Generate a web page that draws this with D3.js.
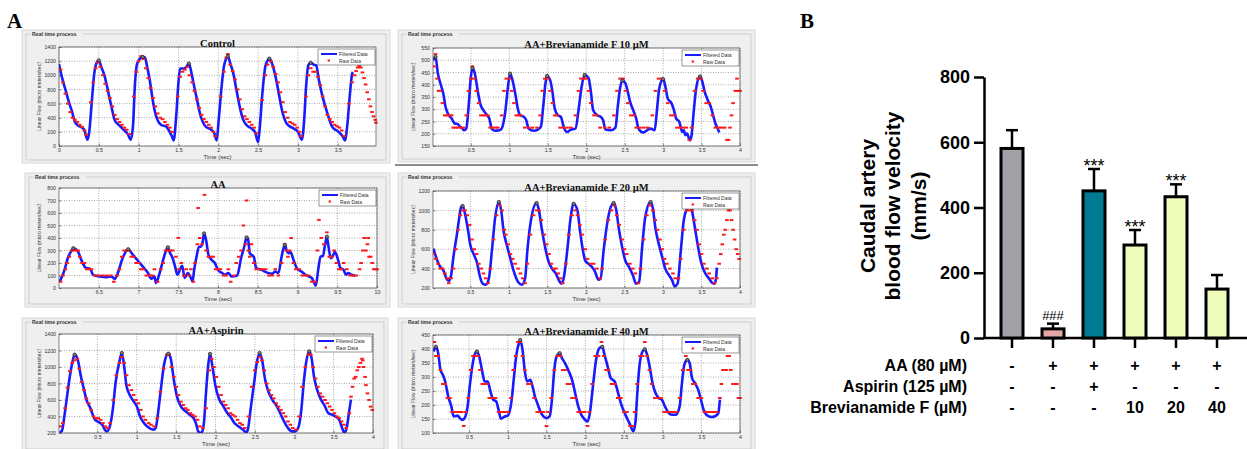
<!DOCTYPE html>
<html>
<head>
<meta charset="utf-8">
<script src="https://cdn.jsdelivr.net/npm/d3@7"></script>
<style>
body { margin: 0; background: #fff; }
svg { display: block; }
</style>
</head>
<body>
<div id="chart"></div>
<script>
// ---------- Panel A data: filtered waveform [time, flow] ----------
var ctrlFilt = [[0,1160],[0.04,960],[0.09,760],[0.13,600],[0.16,500],[0.2,340],[0.24,290],[0.29,260],[0.32,220],[0.345,120],[0.36,90],[0.38,200],[0.41,600],[0.44,1000],[0.47,1170],[0.5,1210],[0.53,1120],[0.57,1000],[0.6,860],[0.63,700],[0.66,550],[0.7,365],[0.76,290],[0.82,220],[0.86,175],[0.9,90],[0.93,300],[0.95,800],[0.98,1160],[1.02,1240],[1.05,1260],[1.08,1250],[1.11,1100],[1.14,930],[1.17,700],[1.2,505],[1.24,360],[1.28,300],[1.35,270],[1.39,200],[1.42,130],[1.44,80],[1.47,400],[1.5,900],[1.52,1095],[1.56,1095],[1.6,1120],[1.63,1165],[1.66,1050],[1.69,880],[1.73,670],[1.77,460],[1.83,290],[1.92,220],[1.95,180],[1.98,80],[2.0,300],[2.03,700],[2.07,1120],[2.1,1240],[2.12,1270],[2.15,1170],[2.19,1020],[2.23,780],[2.27,550],[2.31,380],[2.36,290],[2.42,245],[2.46,200],[2.5,55],[2.52,250],[2.55,700],[2.59,1120],[2.62,1210],[2.64,1235],[2.67,1180],[2.72,975],[2.76,740],[2.8,505],[2.86,315],[2.95,245],[3.0,200],[3.05,90],[3.08,400],[3.1,800],[3.13,1140],[3.16,1175],[3.2,1150],[3.23,1140],[3.26,950],[3.3,740],[3.37,460],[3.43,270],[3.51,200],[3.56,140],[3.59,80],[3.62,300],[3.65,700],[3.68,1020],[3.69,1045]];
var ctrlRaw = [[0.02,1080],[0.05,900],[0.08,740],[0.11,600],[0.14,480],[0.17,400],[0.2,370],[0.23,340],[0.26,300],[0.29,270],[0.32,220],[0.34,160],[0.4,620],[0.43,900],[0.46,1100],[0.49,1180],[0.52,1120],[0.55,1000],[0.58,880],[0.61,780],[0.64,680],[0.67,560],[0.7,440],[0.73,380],[0.76,340],[0.79,300],[0.82,260],[0.85,230],[0.88,170],[0.94,700],[0.97,1050],[1.0,1200],[1.03,1270],[1.06,1230],[1.09,1100],[1.12,960],[1.15,820],[1.18,680],[1.21,560],[1.24,460],[1.27,400],[1.3,380],[1.33,340],[1.36,300],[1.39,260],[1.42,200],[1.49,700],[1.52,980],[1.55,1050],[1.58,1080],[1.61,1120],[1.64,1000],[1.67,900],[1.7,780],[1.73,660],[1.76,540],[1.79,440],[1.82,380],[1.85,340],[1.88,300],[1.91,260],[1.94,200],[1.96,140],[2.03,700],[2.07,1050],[2.1,1250],[2.12,1300],[2.15,1150],[2.18,1060],[2.21,940],[2.24,800],[2.27,660],[2.3,520],[2.33,420],[2.36,380],[2.39,340],[2.42,300],[2.45,260],[2.48,180],[2.55,650],[2.59,1000],[2.62,1150],[2.66,1200],[2.69,1120],[2.72,1020],[2.75,900],[2.78,760],[2.81,620],[2.84,480],[2.87,400],[2.9,340],[2.93,320],[2.96,300],[2.99,260],[3.02,200],[3.04,140],[3.1,700],[3.13,1000],[3.16,1100],[3.19,1050],[3.22,1050],[3.25,980],[3.28,860],[3.31,700],[3.34,560],[3.37,440],[3.4,380],[3.43,340],[3.46,300],[3.49,280],[3.52,260],[3.55,220],[3.58,140],[3.64,600],[3.68,900],[3.71,1000],[3.73,1060],[3.75,1110],[3.77,1130],[3.79,1110],[3.81,1040],[3.83,960],[3.85,870],[3.87,760],[3.89,660],[3.91,560],[3.93,480],[3.95,420],[3.97,370],[3.98,330]];
var ctrlPeaks = [[0.5,1210],[1.05,1260],[1.63,1165],[2.12,1270],[2.64,1235],[3.16,1175]];

var aaFilt = [[6.01,53],[6.07,145],[6.11,238],[6.16,300],[6.18,318],[6.24,290],[6.28,225],[6.34,160],[6.39,155],[6.43,105],[6.51,93],[6.6,87],[6.66,93],[6.7,72],[6.74,120],[6.8,238],[6.85,300],[6.87,310],[6.93,265],[7.0,212],[7.06,167],[7.12,120],[7.16,74],[7.2,93],[7.22,40],[7.26,106],[7.31,225],[7.35,305],[7.37,325],[7.39,290],[7.43,238],[7.46,172],[7.49,106],[7.52,145],[7.55,177],[7.58,80],[7.62,120],[7.65,93],[7.68,53],[7.7,145],[7.73,250],[7.76,330],[7.78,330],[7.805,360],[7.825,437],[7.85,384],[7.88,265],[7.92,225],[7.96,200],[8.0,145],[8.05,120],[8.09,106],[8.13,120],[8.17,93],[8.24,98],[8.29,238],[8.33,330],[8.36,405],[8.38,384],[8.4,278],[8.45,250],[8.48,160],[8.55,145],[8.61,125],[8.68,114],[8.72,132],[8.76,120],[8.8,250],[8.84,345],[8.86,305],[8.89,278],[8.91,290],[8.95,225],[8.99,160],[9.05,132],[9.1,106],[9.14,93],[9.18,80],[9.21,40],[9.23,18],[9.26,145],[9.29,250],[9.32,257],[9.35,357],[9.37,410],[9.39,330],[9.42,238],[9.44,250],[9.47,290],[9.51,225],[9.54,160],[9.58,145],[9.61,106],[9.64,120],[9.68,106],[9.73,98]];
var aaRaw = [[6.02,50],[6.05,100],[6.08,150],[6.1,200],[6.13,250],[6.16,300],[6.19,300],[6.22,300],[6.24,300],[6.26,250],[6.29,200],[6.32,200],[6.35,150],[6.38,150],[6.41,150],[6.45,100],[6.5,100],[6.55,100],[6.6,100],[6.65,100],[6.69,50],[6.73,100],[6.76,150],[6.79,250],[6.82,300],[6.85,300],[6.88,300],[6.91,250],[6.94,250],[6.97,200],[7.0,200],[7.03,150],[7.06,150],[7.1,100],[7.14,100],[7.17,100],[7.2,150],[7.24,50],[7.28,150],[7.31,200],[7.34,300],[7.37,300],[7.4,300],[7.43,300],[7.47,250],[7.5,400],[7.51,150],[7.54,200],[7.57,100],[7.6,150],[7.63,100],[7.66,150],[7.69,50],[7.71,200],[7.74,350],[7.75,640],[7.77,400],[7.8,350],[7.83,745],[7.85,300],[7.88,250],[7.91,250],[7.94,250],[7.97,150],[8.0,150],[8.03,150],[8.07,100],[8.1,100],[8.13,150],[8.16,50],[8.2,100],[8.23,200],[8.26,250],[8.29,300],[8.32,500],[8.35,350],[8.36,700],[8.38,300],[8.4,250],[8.42,350],[8.45,200],[8.48,150],[8.52,150],[8.56,150],[8.6,150],[8.64,100],[8.68,100],[8.72,150],[8.76,100],[8.8,200],[8.84,350],[8.86,300],[8.88,250],[8.9,300],[8.92,400],[8.95,200],[8.98,150],[9.02,150],[9.06,100],[9.1,100],[9.14,100],[9.18,50],[9.22,50],[9.25,300],[9.27,545],[9.3,400],[9.33,350],[9.37,445],[9.4,250],[9.43,250],[9.46,300],[9.49,200],[9.52,150],[9.55,150],[9.58,200],[9.62,150],[9.66,100],[9.7,100],[9.74,100],[9.78,150],[9.8,200],[9.82,300],[9.84,400],[9.86,300],[9.88,350],[9.89,400],[9.9,250],[9.92,250],[9.94,200],[9.96,150],[9.98,150],[10.0,150]];
var aaPeaks = [[6.18,318],[6.87,310],[7.37,325],[7.825,437],[8.36,405],[8.84,345],[9.37,410]];

var aspFilt = [[0.02,208],[0.05,228],[0.08,402],[0.12,685],[0.15,887],[0.18,1048],[0.21,1150],[0.25,1089],[0.29,887],[0.33,725],[0.36,604],[0.41,503],[0.44,422],[0.47,362],[0.52,329],[0.56,301],[0.6,232],[0.62,220],[0.66,289],[0.7,523],[0.73,806],[0.78,1069],[0.81,1170],[0.84,1008],[0.87,766],[0.92,644],[0.96,584],[1.0,523],[1.04,402],[1.09,321],[1.14,273],[1.21,240],[1.24,261],[1.27,442],[1.31,766],[1.35,1048],[1.4,1162],[1.43,1109],[1.47,846],[1.51,644],[1.56,523],[1.62,463],[1.67,422],[1.72,382],[1.75,321],[1.78,220],[1.82,200],[1.85,300],[1.88,700],[1.91,1050],[1.93,1158],[1.96,1008],[2.0,766],[2.04,624],[2.1,523],[2.15,442],[2.2,382],[2.24,321],[2.29,281],[2.35,240],[2.39,208],[2.41,240],[2.45,523],[2.49,806],[2.52,1028],[2.56,1170],[2.59,1089],[2.63,846],[2.67,705],[2.72,604],[2.78,523],[2.83,422],[2.87,341],[2.92,261],[2.97,220],[3.01,220],[3.05,261],[3.09,483],[3.12,806],[3.15,1048],[3.19,1190],[3.22,1109],[3.25,887],[3.29,725],[3.34,604],[3.39,523],[3.43,442],[3.48,422],[3.52,402],[3.57,362],[3.6,281],[3.64,200],[3.67,281],[3.7,483],[3.72,604]];
var aspRaw = [[0.03,280],[0.06,320],[0.09,500],[0.12,750],[0.15,950],[0.18,1050],[0.21,1080],[0.24,1100],[0.27,980],[0.3,820],[0.33,720],[0.36,620],[0.39,560],[0.42,480],[0.45,400],[0.48,380],[0.51,380],[0.54,360],[0.57,320],[0.6,280],[0.63,260],[0.66,320],[0.7,600],[0.74,900],[0.78,1050],[0.81,1120],[0.84,1050],[0.87,900],[0.9,780],[0.93,720],[0.96,660],[0.99,600],[1.02,560],[1.05,480],[1.08,400],[1.11,360],[1.15,320],[1.18,300],[1.22,280],[1.26,380],[1.3,700],[1.34,980],[1.38,1150],[1.41,1150],[1.44,1000],[1.47,880],[1.5,760],[1.53,660],[1.56,580],[1.59,540],[1.62,500],[1.65,480],[1.68,440],[1.71,420],[1.74,400],[1.77,360],[1.8,280],[1.84,260],[1.88,500],[1.92,960],[1.95,1100],[1.98,1000],[2.01,880],[2.04,760],[2.07,660],[2.1,580],[2.13,540],[2.16,500],[2.19,440],[2.22,420],[2.25,400],[2.28,360],[2.31,320],[2.34,300],[2.37,260],[2.42,400],[2.46,760],[2.5,960],[2.53,1060],[2.56,1120],[2.59,1080],[2.62,960],[2.65,800],[2.68,720],[2.71,660],[2.74,620],[2.77,560],[2.8,520],[2.83,480],[2.86,440],[2.89,400],[2.92,340],[2.95,300],[2.98,260],[3.02,240],[3.06,400],[3.1,760],[3.14,1000],[3.18,1150],[3.21,1150],[3.24,1000],[3.27,860],[3.3,760],[3.33,680],[3.36,640],[3.39,600],[3.42,560],[3.45,520],[3.48,480],[3.51,440],[3.54,400],[3.57,380],[3.6,340],[3.63,300],[3.66,260],[3.7,440],[3.72,640],[3.74,760],[3.76,860],[3.78,880],[3.8,960],[3.82,1000],[3.84,1050],[3.86,1100],[3.87,1080],[3.88,1000],[3.9,880],[3.91,780],[3.93,680],[3.95,600],[3.97,520],[3.99,480]];
var aspPeaks = [[0.21,1150],[0.81,1170],[1.4,1162],[1.93,1158],[2.56,1170],[3.19,1190]];

var b10Filt = [[0.01,502],[0.04,513],[0.07,447],[0.11,399],[0.14,365],[0.17,310],[0.2,283],[0.25,262],[0.29,242],[0.33,239],[0.36,228],[0.39,221],[0.41,214],[0.44,221],[0.47,310],[0.5,434],[0.52,468],[0.55,447],[0.59,372],[0.62,324],[0.66,297],[0.71,276],[0.74,262],[0.77,221],[0.81,212],[0.87,214],[0.9,221],[0.95,297],[0.98,386],[1.01,445],[1.04,420],[1.08,358],[1.11,303],[1.14,276],[1.19,269],[1.22,255],[1.25,221],[1.32,212],[1.37,217],[1.41,228],[1.44,310],[1.47,406],[1.49,436],[1.53,420],[1.56,372],[1.59,303],[1.63,276],[1.67,269],[1.71,225],[1.75,207],[1.8,217],[1.86,221],[1.9,297],[1.94,392],[1.98,440],[2.03,427],[2.06,372],[2.09,297],[2.14,276],[2.19,269],[2.22,255],[2.25,217],[2.32,214],[2.38,225],[2.41,310],[2.44,386],[2.47,417],[2.51,406],[2.54,372],[2.57,331],[2.61,297],[2.65,262],[2.68,221],[2.74,205],[2.79,214],[2.84,221],[2.89,214],[2.92,297],[2.95,386],[3.0,423],[3.03,392],[3.06,344],[3.11,324],[3.14,297],[3.17,262],[3.21,249],[3.25,207],[3.27,214],[3.29,194],[3.31,201],[3.35,173],[3.37,194],[3.4,297],[3.43,386],[3.48,434],[3.51,413],[3.54,372],[3.58,338],[3.62,310],[3.65,276],[3.68,242],[3.71,221],[3.73,205]];
var b10Raw = [[0.02,475],[0.04,525],[0.06,425],[0.08,375],[0.1,375],[0.13,325],[0.16,275],[0.19,275],[0.22,275],[0.25,275],[0.27,225],[0.3,225],[0.33,225],[0.37,225],[0.4,225],[0.44,275],[0.47,375],[0.5,425],[0.52,475],[0.54,425],[0.57,375],[0.6,325],[0.63,275],[0.66,275],[0.69,275],[0.72,275],[0.75,225],[0.78,225],[0.82,225],[0.85,225],[0.9,275],[0.93,375],[0.96,425],[1.0,425],[1.03,375],[1.06,325],[1.09,275],[1.12,275],[1.15,275],[1.2,225],[1.25,225],[1.3,225],[1.36,225],[1.4,275],[1.43,375],[1.46,425],[1.5,425],[1.53,375],[1.56,325],[1.59,275],[1.62,275],[1.66,225],[1.7,225],[1.75,225],[1.8,225],[1.86,275],[1.9,375],[1.93,425],[1.97,425],[2.0,425],[2.03,375],[2.06,325],[2.1,275],[2.14,275],[2.18,225],[2.24,225],[2.3,225],[2.36,275],[2.4,375],[2.44,425],[2.48,425],[2.51,375],[2.54,325],[2.58,275],[2.62,275],[2.65,225],[2.7,225],[2.75,225],[2.8,225],[2.86,275],[2.9,375],[2.94,425],[2.98,425],[3.02,375],[3.06,325],[3.1,275],[3.14,275],[3.18,225],[3.22,225],[3.26,225],[3.3,225],[3.34,175],[3.37,225],[3.41,375],[3.45,425],[3.49,425],[3.52,375],[3.56,325],[3.6,325],[3.64,275],[3.68,225],[3.72,225],[3.76,225],[3.8,225],[3.83,175],[3.85,175],[3.87,225],[3.89,275],[3.91,325],[3.94,375],[3.96,425],[3.98,375],[4.0,375]];
var b10Peaks = [[0.04,513],[0.52,468],[1.01,445],[1.49,436],[1.98,440],[2.47,417],[3.0,423],[3.48,434]];

var b20Filt = [[0.02,605],[0.07,485],[0.11,416],[0.15,382],[0.19,296],[0.22,272],[0.25,331],[0.28,520],[0.33,777],[0.36,949],[0.38,1035],[0.4,1045],[0.43,966],[0.47,795],[0.5,640],[0.54,554],[0.59,451],[0.62,331],[0.66,245],[0.7,234],[0.74,296],[0.78,588],[0.82,915],[0.87,1087],[0.9,1000],[0.93,795],[0.98,623],[1.02,502],[1.06,382],[1.12,262],[1.17,234],[1.21,296],[1.24,588],[1.29,915],[1.36,1076],[1.39,1000],[1.43,795],[1.47,623],[1.51,485],[1.56,399],[1.61,348],[1.65,279],[1.68,245],[1.71,296],[1.76,605],[1.8,915],[1.84,1069],[1.89,1000],[1.92,812],[1.95,640],[1.99,485],[2.03,451],[2.08,416],[2.12,365],[2.16,286],[2.19,296],[2.23,588],[2.29,932],[2.36,1076],[2.39,1018],[2.43,795],[2.47,623],[2.51,485],[2.56,416],[2.61,331],[2.65,245],[2.69,262],[2.73,623],[2.77,932],[2.84,1087],[2.87,1018],[2.9,829],[2.95,640],[2.99,520],[3.03,399],[3.08,331],[3.12,279],[3.15,217],[3.19,245],[3.23,571],[3.27,898],[3.32,1035],[3.35,1069],[3.38,983],[3.42,795],[3.46,605],[3.5,451],[3.54,365],[3.6,296],[3.64,252],[3.67,245],[3.69,313],[3.7,410]];
var b20Raw = [[0.02,550],[0.05,500],[0.08,450],[0.11,400],[0.14,400],[0.17,350],[0.2,300],[0.22,250],[0.25,300],[0.28,400],[0.31,600],[0.34,800],[0.37,950],[0.4,1000],[0.43,1000],[0.46,950],[0.49,850],[0.52,700],[0.55,600],[0.58,550],[0.61,450],[0.64,400],[0.67,350],[0.7,300],[0.73,250],[0.76,400],[0.8,700],[0.84,950],[0.88,1050],[0.91,1000],[0.94,800],[0.96,750],[0.99,650],[1.02,550],[1.05,500],[1.08,450],[1.12,400],[1.15,350],[1.18,300],[1.21,250],[1.24,450],[1.28,750],[1.32,950],[1.36,1000],[1.39,1000],[1.42,900],[1.46,750],[1.49,650],[1.52,550],[1.55,450],[1.58,400],[1.61,400],[1.64,350],[1.67,300],[1.7,250],[1.74,450],[1.78,750],[1.82,950],[1.86,1000],[1.89,950],[1.92,850],[1.95,750],[1.99,600],[2.02,500],[2.06,450],[2.1,450],[2.14,400],[2.18,300],[2.21,400],[2.25,700],[2.29,900],[2.33,1000],[2.37,1050],[2.4,950],[2.43,850],[2.47,700],[2.5,600],[2.53,550],[2.57,450],[2.61,400],[2.64,350],[2.68,250],[2.71,400],[2.75,700],[2.79,950],[2.83,1050],[2.87,1000],[2.9,900],[2.93,800],[2.96,700],[2.99,600],[3.02,500],[3.05,450],[3.09,400],[3.13,350],[3.16,300],[3.2,300],[3.23,500],[3.27,800],[3.31,1000],[3.35,1000],[3.38,1000],[3.41,900],[3.44,800],[3.47,650],[3.5,550],[3.53,450],[3.57,400],[3.6,350],[3.64,300],[3.67,250],[3.7,300],[3.73,450],[3.75,550],[3.77,650],[3.79,750],[3.81,800],[3.83,900],[3.85,1000],[3.87,1000],[3.89,900],[3.91,800],[3.93,700],[3.95,600],[3.97,550],[3.99,500]];
var b20Peaks = [[0.4,1045],[0.87,1087],[1.36,1076],[1.84,1069],[2.36,1076],[2.84,1087],[3.35,1069]];

var b40Filt = [[0.04,391],[0.07,408],[0.1,385],[0.13,325],[0.16,308],[0.19,284],[0.23,230],[0.27,195],[0.3,159],[0.35,162],[0.38,153],[0.41,147],[0.44,153],[0.48,195],[0.51,272],[0.54,337],[0.57,379],[0.6,391],[0.63,373],[0.67,319],[0.7,284],[0.74,284],[0.77,254],[0.81,219],[0.85,213],[0.88,183],[0.91,151],[0.96,159],[1.0,162],[1.05,219],[1.08,302],[1.11,379],[1.15,426],[1.16,432],[1.19,397],[1.22,319],[1.25,284],[1.29,290],[1.32,266],[1.35,230],[1.38,207],[1.42,177],[1.46,159],[1.5,153],[1.54,159],[1.57,219],[1.6,325],[1.63,373],[1.67,385],[1.7,367],[1.74,349],[1.79,319],[1.83,290],[1.87,242],[1.91,195],[1.95,165],[1.98,153],[2.03,141],[2.06,171],[2.09,242],[2.14,361],[2.18,402],[2.22,408],[2.25,379],[2.29,337],[2.33,296],[2.38,284],[2.42,248],[2.46,207],[2.51,171],[2.55,147],[2.58,130],[2.62,106],[2.65,141],[2.67,230],[2.7,337],[2.74,391],[2.77,399],[2.8,379],[2.84,325],[2.87,278],[2.91,242],[2.95,225],[2.99,219],[3.03,195],[3.08,171],[3.12,165],[3.17,165],[3.22,195],[3.25,278],[3.28,343],[3.32,361],[3.35,349],[3.38,296],[3.42,278],[3.46,254],[3.49,225],[3.53,183],[3.58,162],[3.64,157],[3.69,162],[3.72,171],[3.74,219]];
var b40Raw = [[0.05,425],[0.07,375],[0.1,375],[0.13,325],[0.16,275],[0.19,275],[0.22,225],[0.25,225],[0.28,175],[0.32,175],[0.36,175],[0.4,175],[0.43,125],[0.45,175],[0.49,225],[0.52,325],[0.55,375],[0.58,375],[0.61,375],[0.64,325],[0.67,275],[0.7,275],[0.73,275],[0.76,225],[0.8,225],[0.84,225],[0.88,175],[0.92,175],[0.96,175],[1.0,175],[1.04,225],[1.07,325],[1.1,375],[1.13,425],[1.16,425],[1.19,375],[1.22,325],[1.26,275],[1.3,275],[1.34,225],[1.38,175],[1.42,175],[1.46,175],[1.5,125],[1.52,175],[1.56,225],[1.6,325],[1.64,375],[1.68,375],[1.71,325],[1.74,325],[1.77,275],[1.8,275],[1.83,225],[1.87,225],[1.91,175],[1.95,175],[1.99,175],[2.03,125],[2.05,175],[2.09,275],[2.13,375],[2.17,375],[2.21,425],[2.24,375],[2.27,325],[2.3,325],[2.34,275],[2.38,275],[2.42,225],[2.46,225],[2.5,175],[2.54,175],[2.58,125],[2.61,125],[2.64,175],[2.67,275],[2.71,375],[2.74,375],[2.77,425],[2.8,375],[2.83,325],[2.86,275],[2.9,225],[2.94,225],[2.98,225],[3.02,175],[3.06,175],[3.1,175],[3.14,175],[3.18,175],[3.22,225],[3.26,325],[3.3,375],[3.33,325],[3.36,325],[3.39,275],[3.42,275],[3.46,225],[3.5,225],[3.54,175],[3.58,175],[3.62,175],[3.66,175],[3.7,175],[3.74,225],[3.76,275],[3.78,325],[3.8,325],[3.82,325],[3.84,375],[3.86,375],[3.88,325],[3.91,275],[3.94,275],[3.96,275],[3.98,225],[4.0,225]];
var b40Peaks = [[0.07,408],[0.6,391],[1.16,432],[1.67,385],[2.22,408],[2.77,399],[3.32,361]];

// ---------- Panel B data ----------
var groups = ["Control", "AA", "AA+Aspirin", "AA+BF10", "AA+BF20", "AA+BF40"];
var means = [581, 28, 451, 285, 433, 150];
var errs = [56, 16, 67, 46, 38, 43];
var sigLabels = ["", "###", "***", "***", "***", ""];
var barColors = ["#a39fa6", "#e6a8a6", "#007b93", "#eefcb9", "#eefcb9", "#eefcb9"];
var barTicks = [0, 200, 400, 600, 800];
var rowNames = ["AA (80 \u00b5M)", "Aspirin (125 \u00b5M)", "Brevianamide F (\u00b5M)"];
var aaRow = ["-", "+", "+", "+", "+", "+"];
var aspirinRow = ["-", "-", "+", "-", "-", "-"];
var brevRow = ["-", "-", "-", "10", "20", "40"];

var svg = d3.select("#chart").append("svg")
    .attr("width", 1247)
    .attr("height", 449);

// panel layouts: outer frame box and plot area [left, top, right, bottom]
var panels = [
  {title: "Control", box: [22, 30, 390, 163], plot: [59, 47, 376, 146],
   xd: [0, 3.98], yd: [0, 1400], xt: d3.range(0, 3.6, 0.5), yt: d3.range(0, 1401, 200),
   filt: ctrlFilt, raw: ctrlRaw, peaks: ctrlPeaks},
  {title: "AA", box: [25, 173, 390, 307], plot: [59, 188, 377, 288],
   xd: [6, 10], yd: [0, 800], xt: d3.range(6.5, 10.01, 0.5), yt: d3.range(0, 801, 100),
   filt: aaFilt, raw: aaRaw, peaks: aaPeaks},
  {title: "AA+Aspirin", box: [22, 318, 388, 452], plot: [59, 334, 373, 433],
   xd: [0.012, 4], yd: [200, 1400], xt: d3.range(0.5, 4.01, 0.5), yt: d3.range(200, 1401, 200),
   filt: aspFilt, raw: aspRaw, peaks: aspPeaks},
  {title: "AA+Brevianamide F 10 \u00b5M", box: [398, 30, 755, 162], plot: [433, 48, 740, 146],
   xd: [0.007, 4], yd: [150, 550], xt: d3.range(0.5, 4.01, 0.5), yt: d3.range(150, 551, 50),
   filt: b10Filt, raw: b10Raw, peaks: b10Peaks},
  {title: "AA+Brevianamide F 20 \u00b5M", box: [398, 173, 755, 307], plot: [433, 191, 740, 288],
   xd: [0.015, 4], yd: [200, 1200], xt: d3.range(0.5, 4.01, 0.5), yt: d3.range(200, 1201, 200),
   filt: b20Filt, raw: b20Raw, peaks: b20Peaks},
  {title: "AA+Brevianamide F 40 \u00b5M", box: [398, 318, 755, 452], plot: [433, 335, 740, 433],
   xd: [0.033, 4], yd: [100, 450], xt: d3.range(0.5, 4.01, 0.5), yt: d3.range(100, 451, 50),
   filt: b40Filt, raw: b40Raw, peaks: b40Peaks}
];

function drawPanel(p, i) {
  var g = svg.append("g");
  var bx0 = p.box[0], by0 = p.box[1], bx1 = p.box[2], by1 = p.box[3];
  var px0 = p.plot[0], py0 = p.plot[1], px1 = p.plot[2], py1 = p.plot[3];

  // window frame
  g.append("rect")
      .attr("x", bx0).attr("y", by0)
      .attr("width", bx1 - bx0).attr("height", by1 - by0)
      .attr("fill", "#efefef")
      .attr("stroke", "#d8d8d8");

  // group box "Real time process"
  g.append("rect")
      .attr("x", bx0 + 4).attr("y", by0 + 4)
      .attr("width", bx1 - bx0 - 8).attr("height", by1 - by0 - 7)
      .attr("fill", "none")
      .attr("stroke", "#b5b5b5")
      .attr("stroke-width", 0.6);
  g.append("rect")
      .attr("x", bx0 + 9).attr("y", by0 + 1)
      .attr("width", 52).attr("height", 6)
      .attr("fill", "#efefef");
  g.append("text")
      .attr("x", bx0 + 10).attr("y", by0 + 6)
      .attr("font-family", "Liberation Sans, Arial, sans-serif")
      .attr("font-size", 5.2)
      .attr("font-weight", "bold")
      .attr("fill", "#333")
      .text("Real time process");

  var x = d3.scaleLinear().domain(p.xd).range([px0, px1]);
  var y = d3.scaleLinear().domain(p.yd).range([py1, py0]);

  g.append("rect")
      .attr("x", px0).attr("y", py0)
      .attr("width", px1 - px0).attr("height", py1 - py0)
      .attr("fill", "#fff");

  // dotted grid
  g.append("g").selectAll("line")
    .data(p.xt)
    .enter()
    .append("line")
      .attr("x1", d => x(d)).attr("x2", d => x(d))
      .attr("y1", py0).attr("y2", py1)
      .attr("stroke", "#555")
      .attr("stroke-width", 0.5)
      .attr("stroke-dasharray", "1,1.5");
  g.append("g").selectAll("line")
    .data(p.yt)
    .enter()
    .append("line")
      .attr("x1", px0).attr("x2", px1)
      .attr("y1", d => y(d)).attr("y2", d => y(d))
      .attr("stroke", "#555")
      .attr("stroke-width", 0.5)
      .attr("stroke-dasharray", "1,1.5");

  // axes
  var xAxis = g.append("g")
      .attr("transform", `translate(0, ${py1})`)
      .call(d3.axisBottom(x).tickValues(p.xt).tickSize(-2.5).tickSizeOuter(0).tickPadding(2.5).tickFormat(d3.format("")));
  var yAxis = g.append("g")
      .attr("transform", `translate(${px0}, 0)`)
      .call(d3.axisLeft(y).tickValues(p.yt).tickSize(-2.5).tickSizeOuter(0).tickPadding(3).tickFormat(d3.format("")));
  [xAxis, yAxis].forEach(function(a) {
    a.select(".domain").remove();
    a.selectAll("line").attr("stroke", "#222").attr("stroke-width", 0.5);
    a.selectAll("text")
        .attr("font-family", "Liberation Sans, Arial, sans-serif")
        .attr("font-size", 5.2)
        .attr("fill", "#333");
  });

  g.append("text")
      .attr("x", (px0 + px1) / 2).attr("y", py1 + 13)
      .attr("text-anchor", "middle")
      .attr("font-family", "Liberation Sans, Arial, sans-serif")
      .attr("font-size", 6)
      .attr("fill", "#333")
      .text("Time (sec)");
  g.append("text")
      .attr("transform", `translate(${px0 - 18}, ${(py0 + py1) / 2}) rotate(-90)`)
      .attr("text-anchor", "middle")
      .attr("font-family", "Liberation Sans, Arial, sans-serif")
      .attr("font-size", 5)
      .attr("fill", "#333")
      .text("Linear Flow (micro meters/sec)");

  // clip for data
  var clipId = "clip" + i;
  svg.append("clipPath").attr("id", clipId)
    .append("rect")
      .attr("x", px0).attr("y", py0 - 3)
      .attr("width", px1 - px0 + 2).attr("height", py1 - py0 + 3);
  var dg = g.append("g").attr("clip-path", `url(#${clipId})`);

  var line = d3.line()
      .x(d => x(d[0]))
      .y(d => y(d[1]))
      .curve(d3.curveMonotoneX);

  dg.append("path")
      .datum(p.filt)
      .attr("d", line)
      .attr("fill", "none")
      .attr("stroke", "#1a1aff")
      .attr("stroke-width", 2.6)
      .attr("stroke-linejoin", "round");

  dg.selectAll(".raw")
    .data(p.raw)
    .enter()
    .append("rect")
      .attr("class", "raw")
      .attr("x", d => x(d[0]) - 1.8)
      .attr("y", d => y(d[1]) - 1)
      .attr("width", 3.6)
      .attr("height", 2)
      .attr("fill", "#ff1a1a");

  dg.selectAll(".peak")
    .data(p.peaks)
    .enter()
    .append("circle")
      .attr("class", "peak")
      .attr("cx", d => x(d[0]))
      .attr("cy", d => y(d[1]))
      .attr("r", 1.7)
      .attr("fill", "#777")
      .attr("stroke", "#111")
      .attr("stroke-width", 0.6);

  // plot frame
  g.append("rect")
      .attr("x", px0).attr("y", py0)
      .attr("width", px1 - px0).attr("height", py1 - py0)
      .attr("fill", "none")
      .attr("stroke", "#333")
      .attr("stroke-width", 0.6);

  // title
  g.append("text")
      .attr("x", (px0 + px1) / 2).attr("y", py0 - 0.5)
      .attr("text-anchor", "middle")
      .attr("font-family", "Liberation Serif, Times New Roman, serif")
      .attr("font-weight", "bold")
      .attr("font-size", 10.5)
      .attr("fill", "#111")
      .text(p.title);

  // legend
  var lx = px1 - 58, ly = py0 + 2;
  var leg = g.append("g").attr("transform", `translate(${lx}, ${ly})`);
  leg.append("rect")
      .attr("width", 57).attr("height", 16)
      .attr("fill", "#fff")
      .attr("stroke", "#333")
      .attr("stroke-width", 0.5);
  leg.append("line")
      .attr("x1", 3).attr("x2", 19).attr("y1", 5).attr("y2", 5)
      .attr("stroke", "#1a1aff").attr("stroke-width", 2);
  leg.append("rect")
      .attr("x", 9.6).attr("y", 10.5).attr("width", 2.4).attr("height", 2)
      .attr("fill", "#ff1a1a");
  leg.append("text").attr("x", 21).attr("y", 7)
      .attr("font-family", "Liberation Sans, Arial, sans-serif")
      .attr("font-size", 5).attr("fill", "#333")
      .text("Filtered Data");
  leg.append("text").attr("x", 21).attr("y", 13.6)
      .attr("font-family", "Liberation Sans, Arial, sans-serif")
      .attr("font-size", 5).attr("fill", "#333")
      .text("Raw Data");
}

panels.forEach(drawPanel);

// separator under the top-right window
svg.append("line")
    .attr("x1", 395).attr("x2", 758)
    .attr("y1", 165).attr("y2", 165)
    .attr("stroke", "#666")
    .attr("stroke-width", 1.5);

// panel letters
svg.append("text")
    .attr("x", 7).attr("y", 28)
    .attr("font-family", "Liberation Serif, Times New Roman, serif")
    .attr("font-weight", "bold")
    .attr("font-size", 21)
    .text("A");
svg.append("text")
    .attr("x", 800).attr("y", 28)
    .attr("font-family", "Liberation Serif, Times New Roman, serif")
    .attr("font-weight", "bold")
    .attr("font-size", 21)
    .text("B");

// ---------- Panel B: bar chart ----------
var barY = d3.scaleLinear().domain([0, 800]).range([338, 77]);
var barX = d3.scalePoint().domain(groups).range([1012, 1217]);
var axisX0 = 984;

var yAxisB = svg.append("g")
    .attr("transform", `translate(${axisX0}, 0)`)
    .call(d3.axisLeft(barY).tickValues(barTicks).tickSize(10).tickSizeOuter(0).tickPadding(4));
yAxisB.select(".domain").attr("stroke", "#000").attr("stroke-width", 2.5);
yAxisB.selectAll(".tick line").attr("stroke", "#000").attr("stroke-width", 2.5);
yAxisB.selectAll("text")
    .attr("font-family", "Liberation Sans, Arial, sans-serif")
    .attr("font-weight", "bold")
    .attr("font-size", 18)
    .attr("fill", "#000");

// x axis
svg.append("line")
    .attr("x1", axisX0 - 1).attr("x2", 1247)
    .attr("y1", barY(0)).attr("y2", barY(0))
    .attr("stroke", "#000").attr("stroke-width", 2.5);
svg.append("g").selectAll("line")
  .data(groups)
  .enter()
  .append("line")
    .attr("x1", d => barX(d)).attr("x2", d => barX(d))
    .attr("y1", barY(0)).attr("y2", barY(0) + 10)
    .attr("stroke", "#000").attr("stroke-width", 2.5);

// error bars (upper only)
var eg = svg.append("g");
groups.forEach(function(gname, i) {
  var cx = barX(gname);
  eg.append("line")
      .attr("x1", cx).attr("x2", cx)
      .attr("y1", barY(means[i])).attr("y2", barY(means[i] + errs[i]))
      .attr("stroke", "#000").attr("stroke-width", 2.5);
  eg.append("line")
      .attr("x1", cx - 6).attr("x2", cx + 6)
      .attr("y1", barY(means[i] + errs[i])).attr("y2", barY(means[i] + errs[i]))
      .attr("stroke", "#000").attr("stroke-width", 2.5);
});

svg.append("g").selectAll("rect")
  .data(groups)
  .enter()
  .append("rect")
    .attr("x", d => barX(d) - 11)
    .attr("y", (d, i) => barY(means[i]))
    .attr("width", 22)
    .attr("height", (d, i) => barY(0) - barY(means[i]))
    .attr("fill", (d, i) => barColors[i])
    .attr("stroke", "#000")
    .attr("stroke-width", 3);

// significance marks
svg.append("g").selectAll("text")
  .data(groups)
  .enter()
  .append("text")
    .attr("x", d => barX(d))
    .attr("y", (d, i) => sigLabels[i] === "###" ? barY(means[i] + errs[i]) - 4 : barY(means[i] + errs[i]) + 3)
    .attr("text-anchor", "middle")
    .attr("font-family", "Liberation Sans, Arial, sans-serif")
    .attr("font-size", (d, i) => sigLabels[i] === "###" ? 13 : 18)
    .attr("fill", "#000")
    .text((d, i) => sigLabels[i]);

// y title
var yTitle = ["Caudal artery", "blood flow velocity", "(mm/s)"];
var yTitleX = [867, 892, 918];
svg.append("g").selectAll("text")
  .data(yTitle)
  .enter()
  .append("text")
    .attr("transform", (d, i) => `translate(${yTitleX[i]}, 206) rotate(-90)`)
    .attr("dy", "0.36em")
    .attr("text-anchor", "middle")
    .attr("font-family", "Liberation Sans, Arial, sans-serif")
    .attr("font-weight", "bold")
    .attr("font-size", 21)
    .attr("fill", "#000")
    .text(d => d);

// treatment table
var rows = [aaRow, aspirinRow, brevRow];
var rowY = [371, 392, 413];
rows.forEach(function(row, r) {
  svg.append("text")
      .attr("x", 967).attr("y", rowY[r])
      .attr("text-anchor", "end")
      .attr("font-family", "Liberation Sans, Arial, sans-serif")
      .attr("font-weight", "bold")
      .attr("font-size", 16)
      .attr("fill", "#000")
      .text(rowNames[r]);
  svg.append("g").selectAll("text")
    .data(row)
    .enter()
    .append("text")
      .attr("x", (d, i) => barX(groups[i]))
      .attr("y", rowY[r])
      .attr("text-anchor", "middle")
      .attr("font-family", "Liberation Sans, Arial, sans-serif")
      .attr("font-weight", "bold")
      .attr("font-size", 16)
      .attr("fill", "#000")
      .text(d => d);
});
</script>
</body>
</html>
